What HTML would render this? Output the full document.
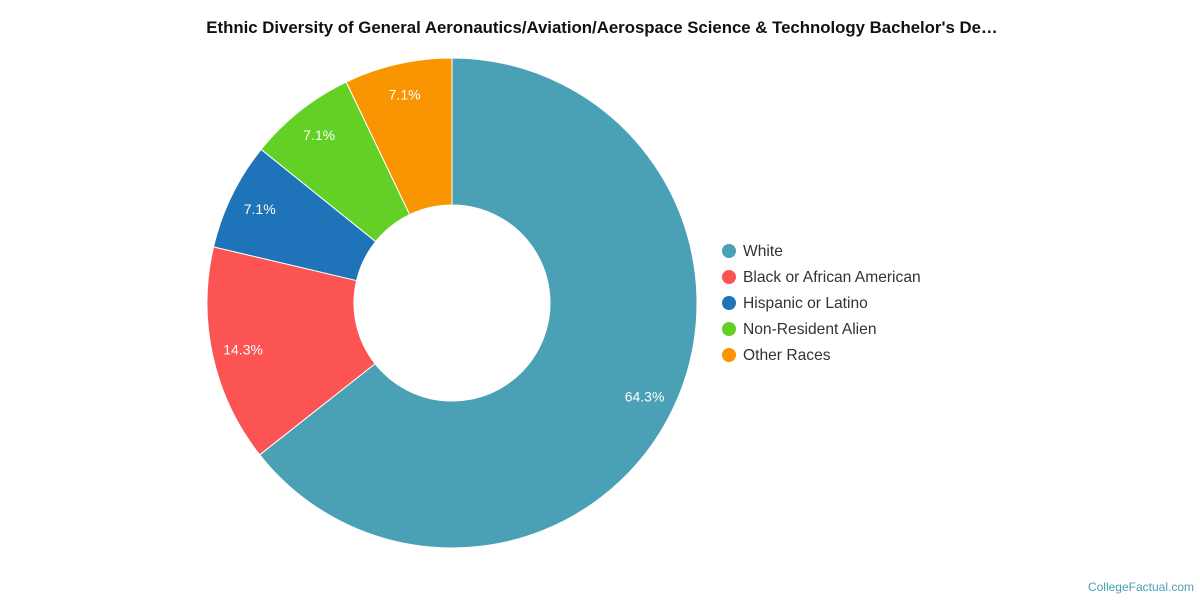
<!DOCTYPE html>
<html><head><meta charset="utf-8"><style>
html,body{margin:0;padding:0;background:#fff;}
body{width:1200px;height:600px;overflow:hidden;font-family:"Liberation Sans",sans-serif;}
</style></head><body>
<svg width="1200" height="600" viewBox="0 0 1200 600">
<text x="602" y="33" text-anchor="middle" font-size="16.8" font-weight="bold" fill="#111">Ethnic Diversity of General Aeronautics/Aviation/Aerospace Science &amp; Technology Bachelor's De…</text>
<g id="slices"></g>
<g id="labels"></g>
<g id="legend"></g>
<text x="1194" y="591" text-anchor="end" font-size="12" fill="#4aa0b5">CollegeFactual.com</text>
</svg>
<script>
const categories=["White","Black or African American","Hispanic or Latino","Non-Resident Alien","Other Races"];
const values=[64.3,14.3,7.1,7.1,7.1];
const colors=["#4aa0b5","#fc5353","#1f74b9","#63d026","#f99500"];
const NS="http://www.w3.org/2000/svg";
const cx=452,cy=303,R=245,r=98,LR=214;
const total=values.reduce((a,b)=>a+b,0);
function pt(a,rad){return [cx+rad*Math.sin(a),cy-rad*Math.cos(a)];}
let acc=0;
const sg=document.getElementById('slices'),lg=document.getElementById('labels'),leg=document.getElementById('legend');
values.forEach((v,i)=>{
  const a0=acc/total*2*Math.PI;acc+=v;const a1=acc/total*2*Math.PI;
  const large=(a1-a0)>Math.PI?1:0;
  const [x0,y0]=pt(a0,R),[x1,y1]=pt(a1,R),[x2,y2]=pt(a1,r),[x3,y3]=pt(a0,r);
  const p=document.createElementNS(NS,'path');
  p.setAttribute('d',`M${x0},${y0}A${R},${R} 0 ${large} 1 ${x1},${y1}L${x2},${y2}A${r},${r} 0 ${large} 0 ${x3},${y3}Z`);
  p.setAttribute('fill',colors[i]);p.setAttribute('stroke','#fff');p.setAttribute('stroke-width','1');
  
  
  sg.appendChild(p);
  const [lx,ly]=pt((a0+a1)/2,LR);
  const t=document.createElementNS(NS,'text');
  t.setAttribute('x',lx);t.setAttribute('y',ly+5);t.setAttribute('text-anchor','middle');
  t.setAttribute('font-size','14');t.setAttribute('fill','#fff');t.textContent=v.toFixed(1)+'%';
  
  
  lg.appendChild(t);
  const g=document.createElementNS(NS,'g');
  
  
  const c=document.createElementNS(NS,'circle');
  c.setAttribute('cx',729);c.setAttribute('cy',251+i*26);c.setAttribute('r',7);c.setAttribute('fill',colors[i]);
  const lt=document.createElementNS(NS,'text');
  lt.setAttribute('x',743);lt.setAttribute('y',256+i*26);lt.setAttribute('font-size','15.6');lt.setAttribute('fill','#333');
  lt.textContent=categories[i];
  g.appendChild(c);g.appendChild(lt);leg.appendChild(g);
});
</script>
</body></html>
